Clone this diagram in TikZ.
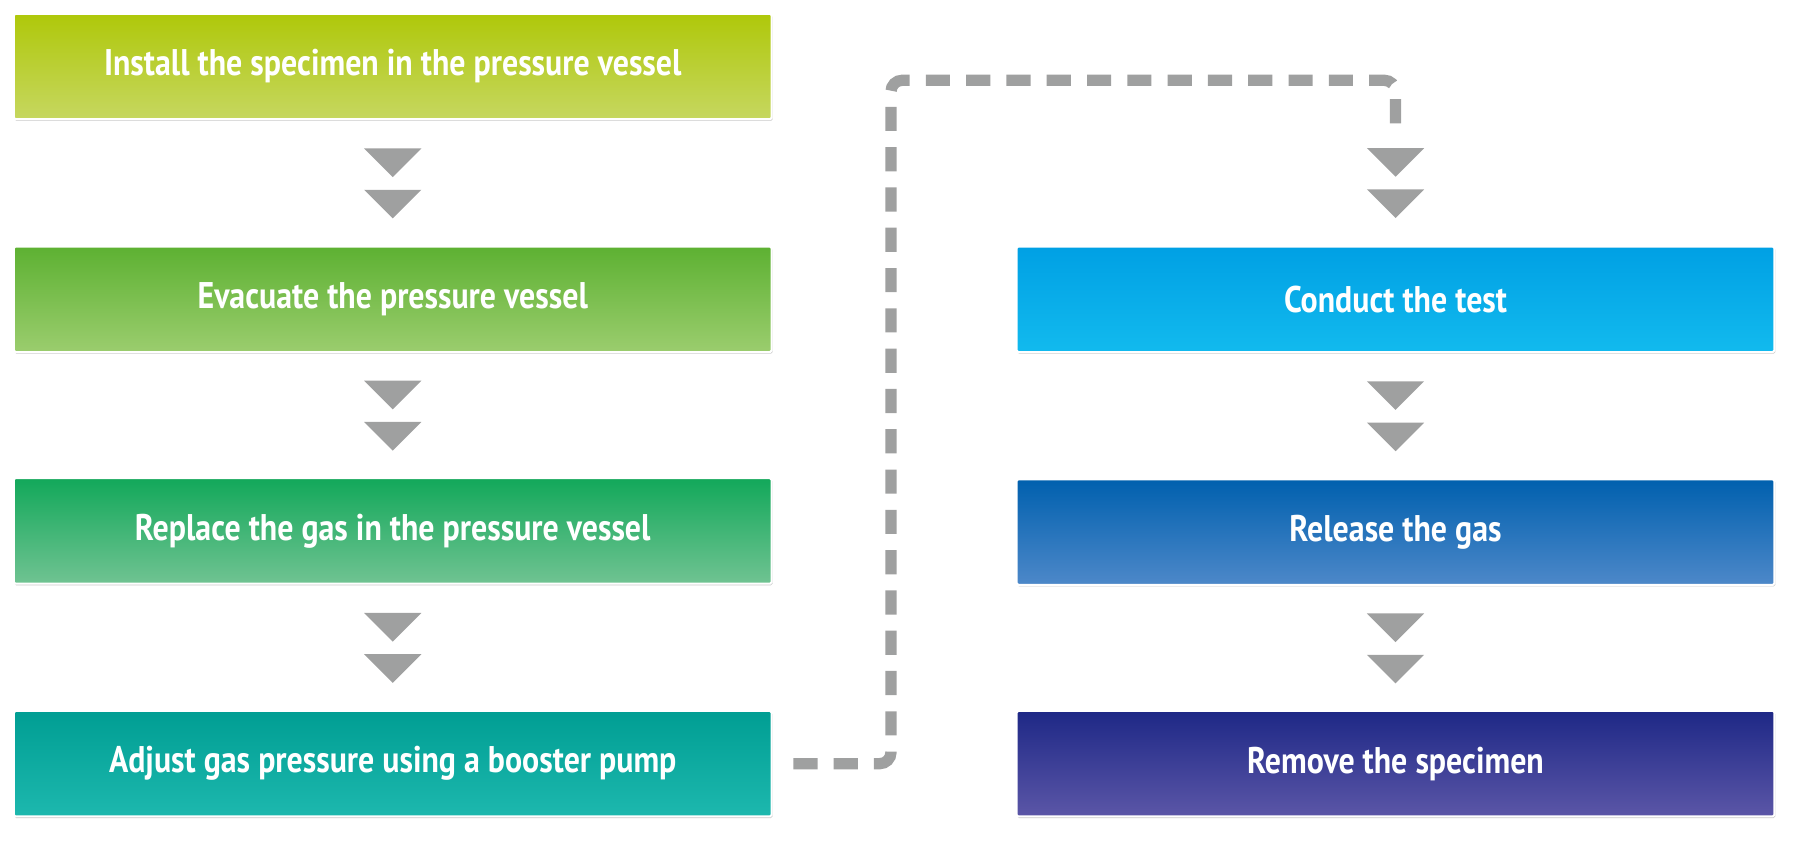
\documentclass[tikz,border=0pt]{standalone}
\usepackage{fontspec}
\setmainfont{PT Sans}
\usetikzlibrary{shadows,calc}
\definecolor{ag}{HTML}{9FA0A0}
\begin{document}
\begin{tikzpicture}[x=0.1cm,y=-0.1cm,
  box/.style={minimum width=66.1cm,minimum height=9.2cm,draw=white,line width=5pt,
    rounded corners=4pt,font=\fontsize{92}{100}\selectfont\bfseries,text=white,
    drop shadow={shadow xshift=2pt,shadow yshift=-4pt,opacity=0.35,fill=black!60}},
  dashline/.style={draw=ag,line width=28pt,dash pattern=on 60pt off 40pt,rounded corners=28pt}]
\useasboundingbox (0,0) rectangle (1568,734);
\newcommand\bx[6]{\node[box,top color=#4,bottom color=#5] (#1) at (#2,#3) {\scalebox{0.86}[1]{#6}};}
\definecolor{c1a}{HTML}{AFC80A}\definecolor{c1b}{HTML}{C6D760}
\definecolor{c2a}{HTML}{5DB132}\definecolor{c2b}{HTML}{9BCD6E}
\definecolor{c3a}{HTML}{12A85A}\definecolor{c3b}{HTML}{70C392}
\definecolor{c4a}{HTML}{009E93}\definecolor{c4b}{HTML}{1DB8AE}
\definecolor{c5a}{HTML}{00A0E4}\definecolor{c5b}{HTML}{12BAEE}
\definecolor{c6a}{HTML}{0060AE}\definecolor{c6b}{HTML}{4D88C9}
\definecolor{c7a}{HTML}{1E2886}\definecolor{c7b}{HTML}{5B56A7}
\bx{b1}{342.5}{58}{c1a}{c1b}{Install the specimen in the pressure vessel}
\bx{b2}{342.5}{261}{c2a}{c2b}{Evacuate the pressure vessel}
\bx{b3}{342.5}{463}{c3a}{c3b}{Replace the gas in the pressure vessel}
\bx{b4}{342.5}{666}{c4a}{c4b}{Adjust gas pressure using a booster pump}
\bx{b5}{1217}{261}{c5a}{c5b}{Conduct the test}
\bx{b6}{1217}{464}{c6a}{c6b}{Release the gas}
\bx{b7}{1217}{666}{c7a}{c7b}{Remove the specimen}
\foreach \a/\b in {b1/b2,b2/b3,b3/b4,b5/b6,b6/b7}{
  \path ($(\a.south)!0.5!(\b.north)$) coordinate (m);
  \fill[ag] ($(m)+(-25,-30)$) -- ($(m)+(25,-30)$) -- ($(m)+(0,-5)$) -- cycle;
  \fill[ag] ($(m)+(-25,6)$) -- ($(m)+(25,6)$) -- ($(m)+(0,31)$) -- cycle;}
\coordinate (t5) at ($(b5.north)+(0,-90)$);
\fill[ag] ($(t5)+(-25,5)$) -- ($(t5)+(25,5)$) -- ($(t5)+(0,30)$) -- cycle;
\fill[ag] ($(t5)+(-25,41)$) -- ($(t5)+(25,41)$) -- ($(t5)+(0,66)$) -- cycle;
\coordinate (d0) at ($(b4.east)+(18,0)$);
\draw[dashline] (d0) -| (777,70) -| ($(t5)+(0,-3)$);
\end{tikzpicture}
\end{document}
